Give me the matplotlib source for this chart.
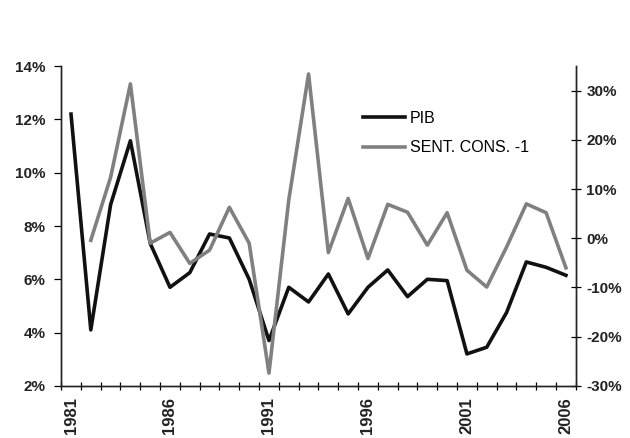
import matplotlib.pyplot as plt
import numpy as np
from matplotlib.ticker import FuncFormatter, MultipleLocator

plt.rcParams['font.family'] = ['Liberation Sans', 'DejaVu Sans']

years = np.arange(1981, 2007)
pib = [12.2, 4.1, 8.8, 11.2, 7.35, 5.7, 6.25, 7.7, 7.55, 6.0,
       3.7, 5.7, 5.15, 6.2, 4.7, 5.7, 6.35, 5.35, 6.0, 5.95,
       3.2, 3.45, 4.75, 6.65, 6.45, 6.15]
# sentiment series starts one year later (lag)
sent = [np.nan, -0.4, 12.4, 31.4, -1.0, 1.2, -5.1, -2.4, 6.3, -1.0,
        -27.4, 7.8, 33.4, -2.9, 8.1, -4.1, 6.9, 5.3, -1.4, 5.2,
        -6.5, -9.9, -1.8, 7.0, 5.2, -6.0]
label_years = [1981, 1986, 1991, 1996, 2001, 2006]

fig = plt.figure(figsize=(6.3, 4.38), dpi=100)
ax = fig.add_axes([0.097, 0.119, 0.817, 0.730])
ax2 = ax.twinx()

l1, = ax.plot(years, pib, color='#111111', lw=2.6, label='PIB', zorder=3)
l2, = ax2.plot(years, sent, color='#808080', lw=2.6, label='SENT. CONS. -1')

ax.set_xlim(1980.5, 2006.5)
ax.set_ylim(2, 14)
ax2.set_ylim(-30, 35)

ax.yaxis.set_major_locator(MultipleLocator(2))
ax.yaxis.set_major_formatter(FuncFormatter(lambda v, p: f'{v:.0f}%'))
ax2.set_yticks(np.arange(-30, 31, 10))
ax2.yaxis.set_major_formatter(FuncFormatter(lambda v, p: f'{v:.0f}%'))

ax.set_xticks(label_years)
ax.set_xticklabels([str(y) for y in label_years], rotation=90)
ax.set_xticks(np.arange(1980.5, 2007, 1), minor=True)
ax.tick_params(axis='x', which='major', length=0, pad=8)
ax.tick_params(axis='x', which='minor', direction='inout', length=6, width=0.9)
ax.tick_params(axis='y', direction='out', length=5, width=0.9, pad=6)
ax2.tick_params(axis='y', direction='inout', length=7, width=0.9, pad=4)

for a in (ax, ax2):
    a.spines['top'].set_visible(False)
    for s in ('left', 'right', 'bottom'):
        a.spines[s].set_linewidth(1.0)
        a.spines[s].set_color('#222222')
    for lab in a.get_yticklabels():
        lab.set_fontsize(11)
        lab.set_fontweight('bold')
        lab.set_color('#222222')
for lab in ax.get_xticklabels():
    lab.set_fontsize(12)
    lab.set_fontweight('bold')
    lab.set_color('#222222')

ax.legend(handles=[l1, l2], loc='upper left', bbox_to_anchor=(0.575, 0.88),
          frameon=False, fontsize=11.5, handlelength=2.6, handletextpad=0.3,
          labelspacing=0.9, borderaxespad=0)

fig.savefig('out.png', dpi=100)
